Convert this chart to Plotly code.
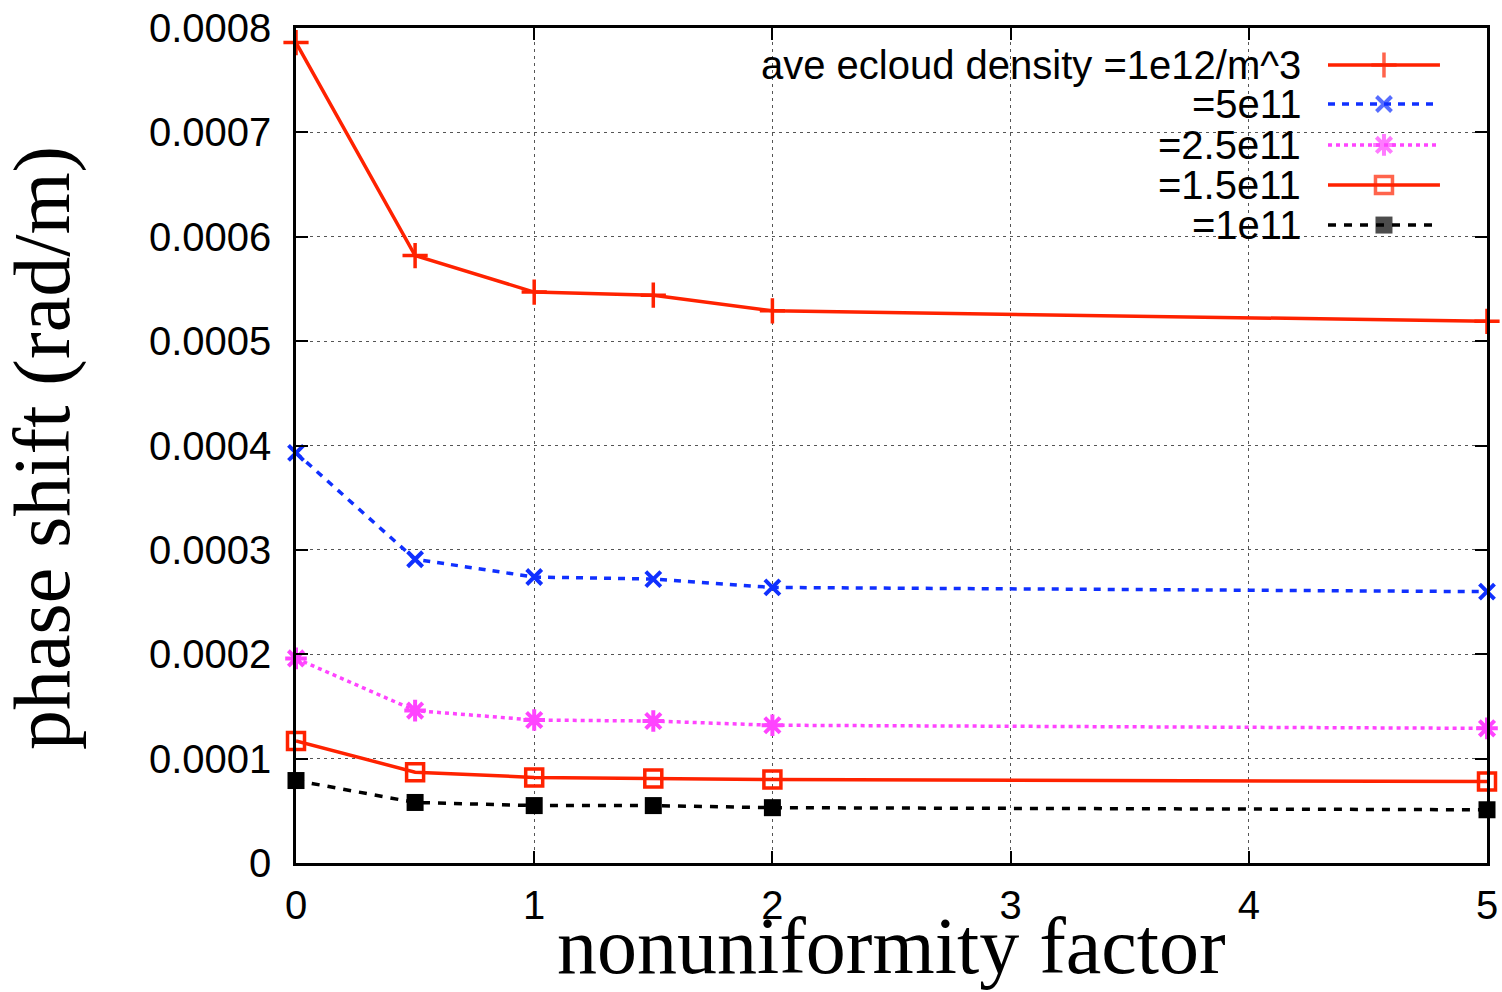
import plotly.graph_objects as go

# ---- data ----
nonuniformity = [0, 0.5, 1, 1.5, 2, 5]
density_1e12 = [7.86e-4, 5.82e-4, 5.47e-4, 5.44e-4, 5.29e-4, 5.19e-4]
density_5e11 = [3.93e-4, 2.91e-4, 2.74e-4, 2.72e-4, 2.64e-4, 2.60e-4]
density_2_5e11 = [1.96e-4, 1.46e-4, 1.37e-4, 1.36e-4, 1.32e-4, 1.29e-4]
density_1_5e11 = [1.17e-4, 0.87e-4, 0.82e-4, 0.81e-4, 0.80e-4, 0.78e-4]
density_1e11 = [0.79e-4, 0.58e-4, 0.55e-4, 0.55e-4, 0.53e-4, 0.51e-4]

labels = ["ave ecloud density =1e12/m^3", "=5e11", "=2.5e11", "=1.5e11", "=1e11"]
y_tickvals = [0, 1e-4, 2e-4, 3e-4, 4e-4, 5e-4, 6e-4, 7e-4, 8e-4]
y_ticktext = ["0", "0.0001", "0.0002", "0.0003", "0.0004", "0.0005", "0.0006", "0.0007", "0.0008"]
x_tickvals = [0, 1, 2, 3, 4, 5]

RED = "#ff2200"
BLUE = "#1030ff"
MAG = "#ff44ff"
BLK = "#000000"

styles = [
    dict(color=RED, dash="solid", symbol="cross-thin", size=18, mlw=3.5, fill=RED),
    dict(color=BLUE, dash="7px,7px", symbol="x-thin", size=15, mlw=4, fill=BLUE),
    dict(color=MAG, dash="4px,4px", symbol="asterisk", size=18, mlw=4, fill=MAG),
    dict(color=RED, dash="solid", symbol="square-open", size=17, mlw=3.5, fill=RED),
    dict(color=BLK, dash="8px,8px", symbol="square", size=17, mlw=0, fill=BLK),
]
series = [density_1e12, density_5e11, density_2_5e11, density_1_5e11, density_1e11]

fig = go.Figure()
for ys, st, lab in zip(series, styles, labels):
    fig.add_trace(go.Scatter(
        x=nonuniformity, y=ys, mode="lines+markers", name=lab,
        line=dict(color=st["color"], width=3.5, dash=st["dash"]),
        marker=dict(symbol=st["symbol"], size=st["size"], color=st["fill"],
                    line=dict(color=st["color"], width=st["mlw"])),
        cliponaxis=False, showlegend=False,
    ))

# custom gnuplot-style key (text right, sample left->right)
row_y = [0.9557, 0.909, 0.860, 0.812, 0.764]
key_text_x = (1303 - 296) / 1191
sample_x = [0.8665, 0.9135, 0.9605]
for ry, st, lab in zip(row_y, styles, labels):
    fig.add_trace(go.Scatter(
        x=sample_x, y=[ry, ry, ry], xaxis="x2", yaxis="y2", mode="lines+markers",
        line=dict(color=st["color"], width=3.5, dash=st["dash"]),
        marker=dict(symbol=st["symbol"], size=[0, st["size"], 0], color=st["fill"],
                    line=dict(color=st["color"], width=st["mlw"])),
        showlegend=False, cliponaxis=False, hoverinfo="skip",
    ))
    fig.add_annotation(x=key_text_x, y=ry, xref="paper", yref="paper", text=lab,
                       showarrow=False, xanchor="right", yanchor="middle",
                       font=dict(family="Liberation Sans", size=40, color="black"))

# key box hides gridlines
fig.add_shape(type="rect", xref="paper", yref="paper", x0=0.278, x1=1.0, y0=0.7425, y1=1.0,
              fillcolor="white", line=dict(width=0), layer="between")

axis_common = dict(
    showline=True, linecolor="black", linewidth=2.5, mirror="allticks",
    ticks="inside", ticklen=12, tickwidth=2, tickcolor="black",
    showgrid=True, gridcolor="#555555", gridwidth=1, griddash="3px,4px",
    zeroline=False, automargin=False,
    tickfont=dict(family="Liberation Sans", size=40, color="black"),
)

fig.update_layout(
    width=1502, height=992,
    margin=dict(l=296, r=15, t=28, b=129),
    plot_bgcolor="white", paper_bgcolor="white",
    xaxis=dict(range=[0, 5], tickvals=x_tickvals, ticklabelstandoff=5, **axis_common),
    yaxis=dict(range=[0, 8e-4], tickvals=y_tickvals, ticktext=y_ticktext,
               ticklabelstandoff=14, **axis_common),
    xaxis2=dict(overlaying="x", range=[0, 1], visible=False, anchor="y2"),
    yaxis2=dict(overlaying="y", range=[0, 1], visible=False, anchor="x2"),
)

fig.add_annotation(x=(891 - 296) / 1191, y=(863 - 946) / 835, xref="paper", yref="paper",
                   text="nonuniformity factor", showarrow=False, xanchor="center", yanchor="middle",
                   font=dict(family="Liberation Serif", size=80, color="black"))
fig.add_annotation(x=(42 - 296) / 1191, y=(863 - 448) / 835, xref="paper", yref="paper",
                   text="phase shift (rad/m)", showarrow=False, textangle=-90,
                   xanchor="center", yanchor="middle",
                   font=dict(family="Liberation Serif", size=80, color="black"))

fig.write_html("out.html")
